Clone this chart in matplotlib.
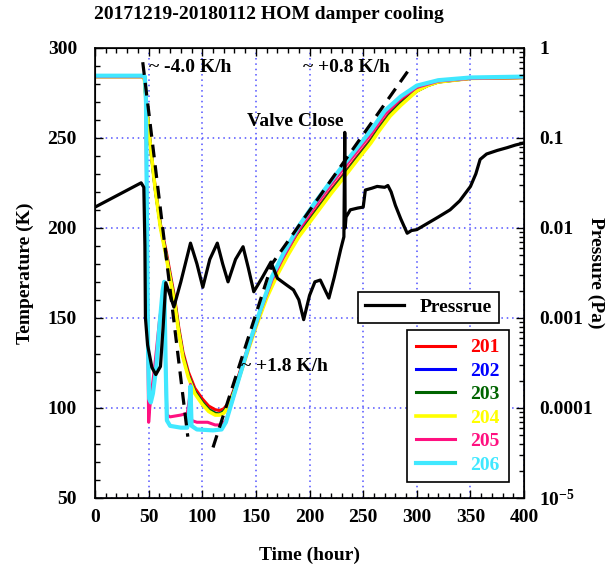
import numpy as np
import matplotlib as mpl
mpl.use('Agg')
import matplotlib.pyplot as plt
from matplotlib.ticker import MultipleLocator, FixedLocator, FixedFormatter, LogLocator, NullFormatter

plt.rcParams["font.family"] = "Liberation Serif"
plt.rcParams["font.weight"] = "bold"
plt.rcParams["axes.labelweight"] = "bold"
plt.rcParams["mathtext.fontset"] = "custom"
plt.rcParams["mathtext.rm"] = "Liberation Serif:bold"
plt.rcParams["mathtext.bf"] = "Liberation Serif:bold"
plt.rcParams["mathtext.default"] = "bf"

# ---- temperature data (K) ----
t_slow = [0, 44, 46, 48, 51, 56, 61, 66, 70, 74, 78, 82, 87, 93, 100, 106, 112, 116, 120, 125, 130,
          140, 150, 160, 170, 180, 190, 200, 210, 220, 232, 245, 257, 265, 275, 285, 300, 310, 320,
          335, 350, 400]
T201 = [284, 284, 283, 268, 250, 223, 202, 188, 175, 162, 145, 131, 120, 111, 105, 101, 99, 98.5, 99.5, 103, 111,
        129, 147, 163, 176, 187, 197, 205, 213, 221, 230, 240, 249, 256, 264, 270, 277, 280, 281.5,
        282.5, 283, 283.5]
T202 = [284, 284, 283, 267, 249, 222, 201, 186, 173, 160, 143, 129, 118, 109, 103, 99, 97, 96.5, 98, 102, 110,
        128, 146, 162, 175, 186, 196, 204, 212, 220, 229, 239, 248, 255, 263, 269, 276, 279, 281,
        282, 283, 283.5]
T203 = [284, 284, 283, 267, 249, 222, 201, 186, 173, 160, 143, 129, 118, 109, 103, 99, 97, 96.5, 98, 102, 110,
        128, 146, 162, 175, 186, 196, 204, 212, 220, 229, 239, 248, 255, 263, 269, 276, 279, 281,
        282, 283, 283.5]
T204 = [284, 284, 283, 267, 249, 222, 200, 185, 172, 159, 142, 128, 117, 108, 102, 98, 96, 96, 97, 101, 109,
        127, 145, 161, 174, 185, 195, 203, 211, 219, 228, 238, 247, 254, 262, 268, 276, 279, 281,
        282, 283, 283.5]

t205 = [0, 45, 47, 48.5, 49.5, 50, 51, 53, 56, 60, 64, 65.5, 67, 70, 80, 86, 88, 89, 90, 95, 105, 112,
        118, 122, 128, 135, 145, 155, 165, 175, 190, 205, 220, 233, 245, 257, 270, 285, 300, 320, 350, 400]
T205 = [284, 284, 282, 200, 120, 92, 100, 110, 125, 148, 165, 130, 96, 95, 96, 97, 105, 113, 93, 92, 92, 90.5,
        90.5, 93, 104, 118, 137, 155, 171, 183, 199, 212, 224, 234, 243, 252, 263, 272, 278, 281.5, 283, 283.5]

t206 = [0, 45, 46.5, 47.5, 48.5, 49.5, 50.5, 52, 54, 57, 60, 63, 64.5, 66, 67, 70, 80, 86, 88, 89, 90, 95,
        110, 118, 122, 128, 135, 145, 155, 165, 175, 190, 205, 220, 233, 245, 257, 270, 285, 300, 320, 350, 400]
T206 = [284.5, 284.5, 284, 270, 200, 130, 105, 103, 108, 122, 145, 165, 170, 120, 93, 90, 89, 89, 100, 112, 90, 88,
        87.5, 88, 92, 104, 118, 138, 156, 173, 185, 201, 214, 226, 236, 245, 254, 265, 273, 279, 282, 283.5, 284]

# ---- pressure data (Pa), stored as log10 ----
t_p = [0, 43, 45.5, 46.5, 47, 49, 53, 56.7, 61, 63.5, 66, 70, 73.5, 80, 89, 95, 100.5, 107, 114, 119, 124,
       131, 138, 143, 148, 156, 164, 170, 178, 185, 190, 194.5, 200, 205, 210, 214, 218, 223, 229, 232,
       232.8, 233.2, 234, 238, 245, 250, 252, 258, 263, 270, 273, 276, 280, 285, 291, 295, 300, 310, 320,
       331, 340, 350, 355, 359, 365, 375, 384, 392, 399]
logP = [-1.77, -1.5, -1.55, -2.2, -3.0, -3.3, -3.55, -3.63, -3.54, -3.1, -2.61, -2.75, -2.88, -2.6, -2.17, -2.4,
        -2.66, -2.35, -2.17, -2.4, -2.6, -2.35, -2.21, -2.45, -2.71, -2.55, -2.38, -2.56, -2.63, -2.69, -2.8,
        -3.02, -2.75, -2.6, -2.58, -2.68, -2.78, -2.55, -2.24, -2.1, -0.94, -2.0, -1.88, -1.8, -1.78, -1.77,
        -1.58, -1.56, -1.54, -1.55, -1.53, -1.6, -1.75, -1.9, -2.06, -2.03, -2.02, -1.95, -1.88, -1.8, -1.7,
        -1.54, -1.4, -1.24, -1.18, -1.14, -1.11, -1.08, -1.06]
pres = [10 ** v for v in logP]

# ---- rate guide lines ----
cool_t = [44.5, 86.5]
cool_T = [292, 84]
warm_t = [110, 165, 294]
warm_T = [78, 180, 289]

FS = 14

fig = plt.figure(figsize=(6.13, 5.69), dpi=100)
ax = fig.add_axes([0.155, 0.125, 0.70, 0.791])
ax2 = ax.twinx()

cols = {"201": "#ff0000", "202": "#0000ff", "203": "#006400", "204": "#ffff00",
        "205": "#ff1080", "206": "#40e8ff"}
ax.plot(t_slow, T201, color=cols["201"], lw=2.2, label="201")
ax.plot(t_slow, T202, color=cols["202"], lw=2.2, label="202")
ax.plot(t_slow, T203, color=cols["203"], lw=2.2, label="203")
ax.plot(t_slow, T204, color=cols["204"], lw=2.6, label="204")
ax.plot(t205, T205, color=cols["205"], lw=2.2, label="205")
ax.plot(t206, T206, color=cols["206"], lw=3.0, label="206")

ax.plot(cool_t, cool_T, color='k', lw=2.3, ls=(0, (4, 2.5)))
ax.plot(warm_t, warm_T, color='k', lw=2.3, ls=(0, (4, 2.5)))

ax.set_xlim(0, 400)
ax.set_ylim(50, 300)
ax.xaxis.set_major_locator(MultipleLocator(50))
ax.xaxis.set_minor_locator(MultipleLocator(10))
ax.yaxis.set_major_locator(MultipleLocator(50))
ax.yaxis.set_minor_locator(MultipleLocator(10))
ax.tick_params(which='both', direction='in', top=True, labelsize=FS)
ax.tick_params(which='major', length=6, width=1)
ax.tick_params(which='minor', length=3.5, width=1)
ax.tick_params(axis='y', pad=13)
ax.tick_params(axis='x', pad=8)
ax.grid(True, which='major', color='#5050ff', ls=(0, (1, 2.5)), lw=1.1)
ax.set_xlabel("Time (hour)", fontsize=FS, labelpad=15)
ax.set_ylabel("Temperature (K)", fontsize=FS, labelpad=10)

ax2.semilogy(t_p, pres, color='k', lw=2.3, label="Pressrue")
ax2.set_ylim(1e-5, 1)
ax2.yaxis.set_major_locator(FixedLocator([1e-5, 1e-4, 1e-3, 1e-2, 1e-1, 1]))
ax2.yaxis.set_major_formatter(FixedFormatter([r"10$^{-5}$", "0.0001", "0.001", "0.01", "0.1", "1"]))
ax2.yaxis.set_minor_locator(LogLocator(base=10, subs=np.arange(2, 10), numticks=20))
ax2.yaxis.set_minor_formatter(NullFormatter())
ax2.tick_params(which='both', direction='in', labelsize=FS, pad=11)
ax2.tick_params(which='major', length=6, width=1)
ax2.tick_params(which='minor', length=3.5, width=1)
ax2.set_ylabel("Pressure (Pa)", fontsize=FS, rotation=270, labelpad=8)

for s in ax.spines.values():
    s.set_linewidth(1.2)

# annotations
ax.text(50, 289, "~ -4.0 K/h", fontsize=FS, va='center', ha='left')
ax.text(194, 289, "~ +0.8 K/h", fontsize=FS, va='center', ha='left')
ax.text(187, 259, "Valve Close", fontsize=FS, va='center', ha='center')
ax.text(136, 123, "~ +1.8 K/h", fontsize=FS, va='center', ha='left')

# legends
hp, lp = ax2.get_legend_handles_labels()
legP = ax2.legend(hp, lp, loc='upper left', bbox_to_anchor=(0.614, 0.458), fontsize=FS,
                  fancybox=False, edgecolor='k', framealpha=1, handlelength=2.0, borderpad=0.35,
                  borderaxespad=0)
legP.get_frame().set_linewidth(1.2)
ax2.add_artist(legP)
ht, lt = ax.get_legend_handles_labels()
legT = ax2.legend(ht, lt, loc='upper left', bbox_to_anchor=(0.728, 0.373), fontsize=FS,
                  fancybox=False, edgecolor='k', framealpha=1, handlelength=2.0, labelspacing=0.3,
                  labelcolor='linecolor', borderpad=0.45, borderaxespad=0)
legT.get_frame().set_linewidth(1.2)

fig.text(0.439, 0.974, "20171219-20180112 HOM damper cooling", fontsize=FS, ha='center', va='center')

fig.savefig("out.png", dpi=100)
